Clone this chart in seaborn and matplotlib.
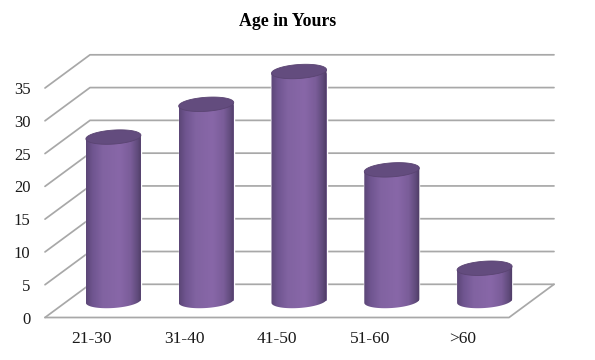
import numpy as np
import pandas as pd
import matplotlib
matplotlib.use("Agg")
import matplotlib.pyplot as plt
from matplotlib.colors import LinearSegmentedColormap
from matplotlib.patches import PathPatch
from matplotlib.path import Path
from matplotlib.transforms import Affine2D
import seaborn as sns

categories = ["21-30", "31-40", "41-50", "51-60", ">60"]
values = [25, 30, 35, 20, 5]
y_ticks = [0, 5, 10, 15, 20, 25, 30, 35]
title = "Age in Yours"

sns.set_theme(style="white")
plt.rcParams["font.family"] = ["Liberation Serif", "DejaVu Serif"]

W, H = 595, 360
fig = plt.figure(figsize=(W / 100, H / 100), dpi=100, facecolor="white")
# front plane of the 3D box, in pixels
L, R, B, T = 45, 509, 317.5, 88
ax = fig.add_axes([L / W, 1 - B / H, (R - L) / W, (B - T) / H])

df = pd.DataFrame({"age": categories, "n": values})
sns.barplot(data=df, x="age", y="n", order=categories, color="#7d5f9e",
            width=0.593, saturation=1, ax=ax, zorder=3)
ax.set_xlim(-0.5, len(categories) - 0.5)
ax.set_ylim(0, 35)
ax.set_yticks(y_ticks)
ax.set_xlabel("")
ax.set_ylabel("")
ax.patch.set_alpha(0)
sns.despine(ax=ax, left=True, bottom=True, top=True, right=True)
ax.tick_params(axis="y", length=0, pad=10.5, labelsize=12, labelcolor="#1a1a1a")
ax.tick_params(axis="x", length=0, pad=9.5, labelsize=12.5, labelcolor="#1a1a1a")

# depth of the box, in pixels -> data units
px_x = (len(categories)) / (R - L)
px_y = 35 / (B - T)
dx, dy = 45 * px_x, 33.2 * px_y

grid_kw = dict(color="#a8a8a8", lw=1.25, clip_on=False, zorder=1, solid_capstyle="round")
x0, x1 = -0.5, len(categories) - 0.5
for v in y_ticks:
    ax.plot([x0, x0 + dx, x1 + dx], [v, v + dy, v + dy], **grid_kw)
ax.plot([x0, x1, x1 + dx], [0, 0, dy], **grid_kw)

# cylinders built on the seaborn bars
ox, oy = 22 * px_x, 16.5 * px_y
shift = Affine2D().translate(22, 16.5)
cmap = LinearSegmentedColormap.from_list(
    "cyl",
    [(0, "#5b4676"), (0.12, "#6f5590"), (0.3, "#8163a1"), (0.6, "#8867a8"),
     (0.8, "#7a5d99"), (0.93, "#5f4a7a"), (1, "#4b3a62")],
)
grad = np.linspace(0, 1, 256).reshape(1, -1)
for bar in list(ax.patches):
    bar.set_transform(ax.transData + shift)
    bar.set_clip_on(False)
    xl = bar.get_x() + ox
    w = bar.get_width()
    h = bar.get_height()
    xc = xl + w / 2
    ybase = oy
    ytop = oy + h
    a = w / 2
    b = 7.0 * px_y
    k = 1.8 * px_y
    tt = np.linspace(0, np.pi, 60)
    # body outline: lower arc left-to-right, then straight top edge back
    xs_b = xc - a * np.cos(tt)
    ys_b = ybase - b * np.sin(tt) - k * np.cos(tt)
    xs_t = xc + a * np.cos(tt)
    ys_t = ytop + k * np.cos(tt)
    body = np.column_stack([np.r_[xs_b, xs_t], np.r_[ys_b, ys_t]])
    im = ax.imshow(grad, extent=[xl, xl + w, ybase - 3, ytop + 3], aspect="auto",
                   cmap=cmap, zorder=4)
    patch = PathPatch(Path(np.vstack([body, body[0]])), transform=ax.transData,
                      fc="none", ec="none", clip_on=False)
    ax.add_patch(patch)
    im.set_clip_box(fig.bbox)
    im.set_clip_path(patch)
    # top ellipse
    t = np.linspace(0, 2 * np.pi, 120)
    ex = xc + a * np.cos(t)
    ey = ytop + b * np.sin(t) + k * np.cos(t)
    ax.fill(ex, ey, fc="#634c7e", ec="#5a4472", lw=0.6, zorder=5, clip_on=False)

ax.set_xlim(-0.5, len(categories) - 0.5)
ax.set_ylim(0, 35)

fig.text(288 / W, 1 - 22 / H, title, ha="center", va="center", fontsize=12.8,
         fontweight="bold", color="black")
fig.savefig("out.png", dpi=100, facecolor="white")
